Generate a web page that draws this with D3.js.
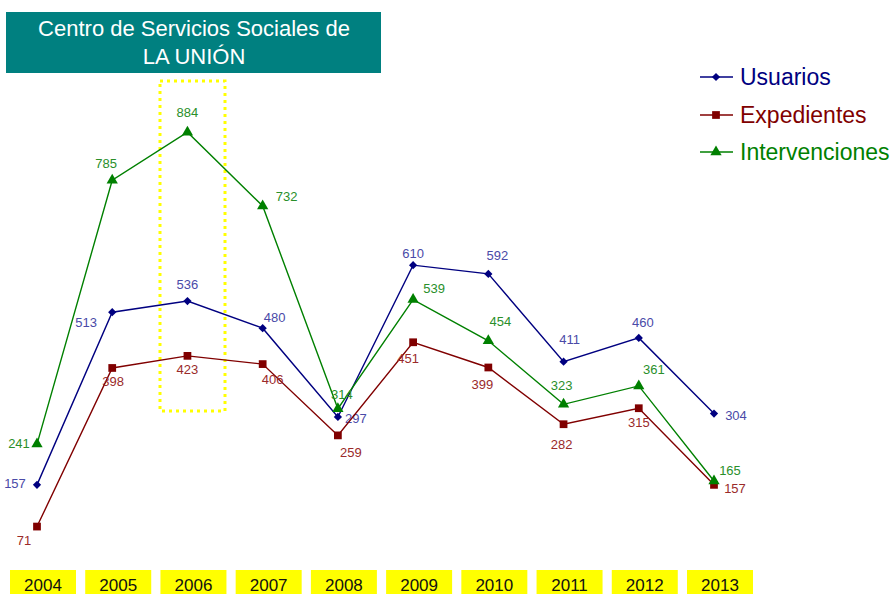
<!DOCTYPE html>
<html>
<head>
<meta charset="utf-8">
<script src="https://cdn.jsdelivr.net/npm/d3@7"></script>
<style>
  body { margin: 0; background: #fff; }
  svg { display: block; font-family: "Liberation Sans", Arial, sans-serif; }
</style>
</head>
<body>
<svg id="chart" width="893" height="594"></svg>
<script>
// data
const years = ["2004", "2005", "2006", "2007", "2008", "2009", "2010", "2011", "2012", "2013"];
const usuarios = [157, 513, 536, 480, 297, 610, 592, 411, 460, 304];
const expedientes = [71, 398, 423, 406, 259, 451, 399, 282, 315, 157];
const intervenciones = [241, 785, 884, 732, 314, 539, 454, 323, 361, 165];

// label nudges (layout only), [dx, dy] from each point
const usuariosNudge = [[-22, 3], [-26, 15], [0, -12], [12, -6], [18, 6], [0, -7], [9, -14], [6, -18], [4, -11], [22, 6]];
const expedientesNudge = [[-13, 18], [1, 18], [0, 18], [10, 20], [13, 22], [-5, 21], [-6, 22], [-2, 25], [0, 19], [21, 8]];
const intervencionesNudge = [[-18, 4], [-6, -12], [0, -15], [24, -5], [4, -10], [21, -7], [12, -15], [-2, -14], [15, -12], [16, -6]];

const series = [
    { name: "Usuarios", values: usuarios, nudge: usuariosNudge, color: "#000080", label: "#4a4aa8", symbol: d3.symbolSquare, size: 34, rot: 45 },
    { name: "Expedientes", values: expedientes, nudge: expedientesNudge, color: "#800000", label: "#9a2a2a", symbol: d3.symbolSquare, size: 60, rot: 0 },
    { name: "Intervenciones", values: intervenciones, nudge: intervencionesNudge, color: "#008000", label: "#2a8f2a", symbol: d3.symbolTriangle, size: 55, rot: 0 }
];

const svg = d3.select("#chart");

const x = d3.scalePoint().domain(years).range([37, 714]);
const y = d3.scaleLinear().domain([0, 1000]).range([561, 76]);

// yellow dotted highlight around 2006
svg.append("rect")
    .attr("x", 160).attr("y", 81)
    .attr("width", 65).attr("height", 330)
    .attr("fill", "none")
    .attr("stroke", "#ffff00")
    .attr("stroke-width", 3)
    .attr("stroke-dasharray", "3,4");

// title box
svg.append("rect")
    .attr("x", 6).attr("y", 12)
    .attr("width", 375).attr("height", 61)
    .attr("fill", "#008080");
svg.append("text")
    .attr("x", 194).attr("y", 36)
    .attr("text-anchor", "middle")
    .attr("fill", "#fff")
    .attr("font-size", 22)
    .text("Centro de Servicios Sociales de");
svg.append("text")
    .attr("x", 194).attr("y", 64)
    .attr("text-anchor", "middle")
    .attr("fill", "#fff")
    .attr("font-size", 22)
    .text("LA UNIÓN");

const line = d3.line()
    .x((d, i) => x(years[i]))
    .y(d => y(d));

series.forEach(s => {
    let g = svg.append("g");
    g.append("path")
        .datum(s.values)
        .attr("d", line)
        .attr("fill", "none")
        .attr("stroke", s.color)
        .attr("stroke-width", 1.4);

    g.selectAll("path.mark")
        .data(s.values)
        .enter()
        .append("path")
        .attr("class", "mark")
        .attr("d", d3.symbol().type(s.symbol).size(s.size))
        .attr("transform", (d, i) => "translate(" + x(years[i]) + "," + y(d) + ") rotate(" + s.rot + ")")
        .attr("fill", s.color);

    g.selectAll("text")
        .data(s.values)
        .enter()
        .append("text")
        .attr("x", (d, i) => x(years[i]) + s.nudge[i][0])
        .attr("y", (d, i) => y(d) + s.nudge[i][1])
        .attr("text-anchor", "middle")
        .attr("font-size", 13)
        .attr("fill", s.label)
        .text(d => d);
});

// legend
const legend = svg.append("g");
series.forEach((s, i) => {
    let ly = [77, 115, 152][i];
    legend.append("line")
        .attr("x1", 700).attr("x2", 733)
        .attr("y1", ly).attr("y2", ly)
        .attr("stroke", s.color)
        .attr("stroke-width", 1.4);
    legend.append("path")
        .attr("d", d3.symbol().type(s.symbol).size(s.size))
        .attr("transform", "translate(716," + ly + ") rotate(" + s.rot + ")")
        .attr("fill", s.color);
    legend.append("text")
        .attr("x", 740).attr("y", ly + 8)
        .attr("font-size", 23)
        .attr("fill", s.color)
        .text(s.name);
});

// year boxes along the bottom
const yearG = svg.selectAll("g.year")
    .data(years)
    .enter()
    .append("g")
    .attr("class", "year");
yearG.append("rect")
    .attr("x", d => x(d) + 6 - 33)
    .attr("y", 570)
    .attr("width", 66)
    .attr("height", 24)
    .attr("fill", "#ffff00");
yearG.append("text")
    .attr("x", d => x(d) + 6)
    .attr("y", 591)
    .attr("text-anchor", "middle")
    .attr("font-size", 17)
    .attr("fill", "#111")
    .text(d => d);
</script>
</body>
</html>
